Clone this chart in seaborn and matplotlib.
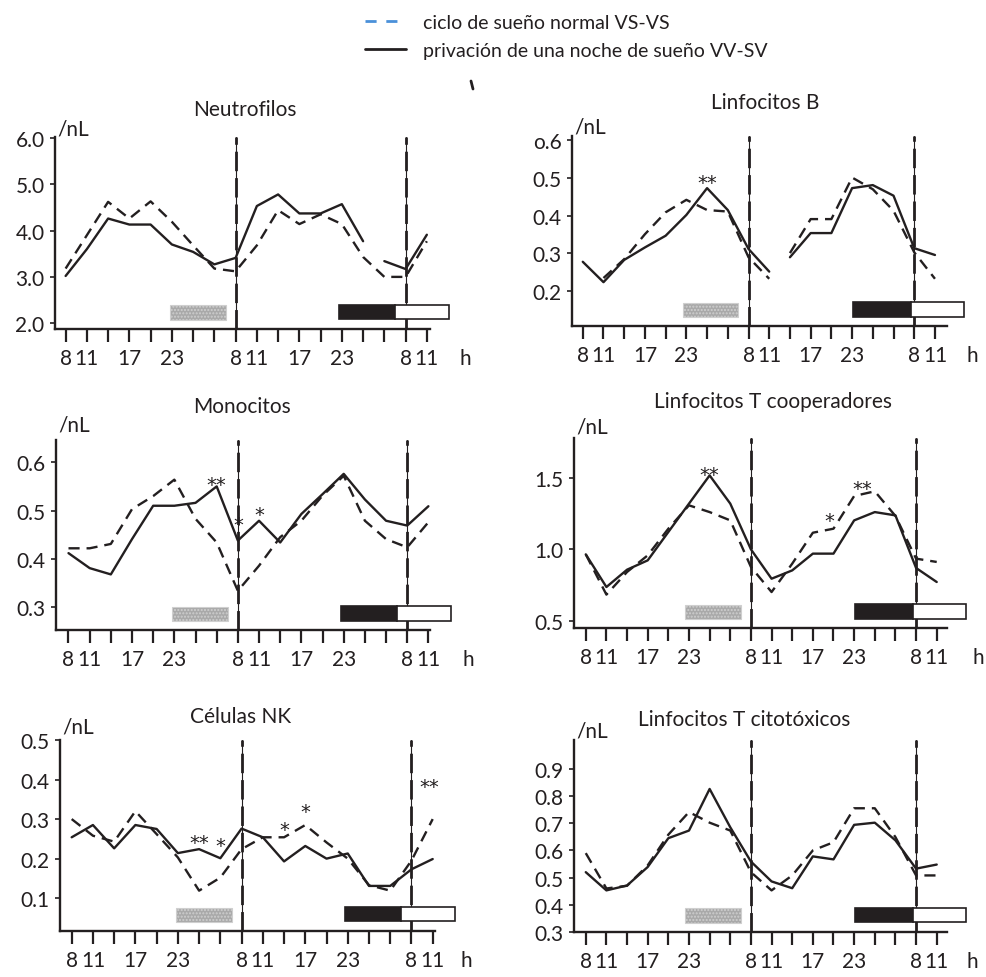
import matplotlib.pyplot as plt
import numpy as np
import pandas as pd
import seaborn as sns
from matplotlib.lines import Line2D
from matplotlib.patches import Rectangle

# clock hour at each 3-hourly sample (tick index 0..17)
hour_labels = ['8', '11', '', '17', '', '23', '', '', '8', '11', '', '17', '', '23', '', '', '8', '11']
n_ticks = len(hour_labels)

titles = ['Neutrofilos', 'Linfocitos B', 'Monocitos',
          'Linfocitos T cooperadores', 'Células NK', 'Linfocitos T citotóxicos']

neutro_normal = [3.18, 3.90, 4.62, 4.26, 4.63, 4.19, 3.68, 3.18, 3.12, 3.68, 4.44, 4.14, 4.35, 4.14, 3.43, 3.00, 3.00, 3.77]
neutro_deprived = [3.02, 3.60, 4.26, 4.13, 4.13, 3.70, 3.54, 3.27, 3.41, 4.53, 4.78, 4.37, 4.37, 4.57, 3.77, 3.34, 3.17, 3.91]

bcell_normal = [np.nan, 0.235, 0.285, 0.351, 0.409, 0.442, 0.415, 0.411, 0.290, 0.233, 0.301, 0.391, 0.391, 0.501, 0.470, 0.413, 0.303, 0.233]
bcell_deprived = [0.278, 0.224, 0.283, 0.316, 0.347, 0.402, 0.473, 0.415, 0.312, 0.252, 0.290, 0.354, 0.354, 0.473, 0.481, 0.453, 0.314, 0.296]

mono_normal = [0.422, 0.422, 0.431, 0.503, 0.530, 0.564, 0.483, 0.434, 0.334, 0.386, 0.445, 0.479, 0.531, 0.572, 0.479, 0.441, 0.424, 0.476]
mono_deprived = [0.412, 0.381, 0.368, 0.441, 0.510, 0.510, 0.516, 0.550, 0.438, 0.479, 0.434, 0.493, 0.534, 0.576, 0.523, 0.479, 0.469, 0.509]

thelper_normal = [0.965, 0.684, 0.842, 0.958, 1.144, 1.307, 1.260, 1.202, 0.877, 0.702, 0.900, 1.116, 1.144, 1.372, 1.405, 1.233, 0.935, 0.912]
thelper_deprived = [0.965, 0.737, 0.858, 0.923, 1.121, 1.319, 1.516, 1.319, 1.000, 0.795, 0.853, 0.970, 0.970, 1.202, 1.260, 1.237, 0.870, 0.772]

nk_normal = [0.300, 0.258, 0.243, 0.320, 0.262, 0.203, 0.119, 0.152, 0.224, 0.254, 0.254, 0.285, 0.241, 0.200, 0.133, 0.119, 0.195, 0.300]
nk_deprived = [0.254, 0.285, 0.226, 0.285, 0.275, 0.214, 0.224, 0.201, 0.276, 0.254, 0.193, 0.232, 0.200, 0.213, 0.131, 0.131, 0.173, 0.199]

tcyto_normal = [0.590, 0.460, 0.470, 0.545, 0.658, 0.741, 0.702, 0.673, 0.520, 0.453, 0.508, 0.600, 0.630, 0.755, 0.755, 0.649, 0.508, 0.508]
tcyto_deprived = [0.520, 0.453, 0.471, 0.539, 0.645, 0.673, 0.826, 0.685, 0.559, 0.486, 0.461, 0.578, 0.567, 0.694, 0.702, 0.637, 0.533, 0.548]

# index where a line restarts after a gap
neutro_breaks = ([], [15])
bcell_breaks = ([10], [10])
no_breaks = ([], [])

y_ticks = [[2.0, 3.0, 4.0, 5.0, 6.0], [0.2, 0.3, 0.4, 0.5, 0.6], [0.3, 0.4, 0.5, 0.6],
           [0.5, 1.0, 1.5], [0.1, 0.2, 0.3, 0.4, 0.5], [0.3, 0.4, 0.5, 0.6, 0.7, 0.8, 0.9]]
y_labels = [['2.0', '3.0', '4.0', '5.0', '6.0'], ['0.2', '0.3', '0.4', '0.5', 'o.6'],
            ['0.3', '0.4', '0.5', '0.6'], ['0.5', '1.0', '1.5'],
            ['0.1', '0.2', '0.3', '0.4', '0.5'],
            ['0.3', '0.4', '0.5', '0.6', '0.7', '0.8', '0.9']]

stars = [
    [],
    [(6, 0.506, '**')],
    [(7, 0.569, '**'), (8, 0.486, '*'), (9, 0.507, '*')],
    [(6, 1.574, '**'), (11.8, 1.249, '*'), (13.4, 1.472, '**')],
    [(6, 0.258, '**'), (7, 0.251, '*'), (10, 0.291, '*'), (11, 0.337, '*'), (16.85, 0.401, '**')],
    [],
]

series = [(neutro_normal, neutro_deprived, neutro_breaks),
          (bcell_normal, bcell_deprived, bcell_breaks),
          (mono_normal, mono_deprived, no_breaks),
          (thelper_normal, thelper_deprived, no_breaks),
          (nk_normal, nk_deprived, no_breaks),
          (tcyto_normal, tcyto_deprived, no_breaks)]

# layout (pixels of a 987x978 canvas): left, right, top, bottom
W, H = 987, 978
boxes_px = [(55, 450, 138, 330), (572, 965, 137, 327),
            (56, 450, 441, 631), (574, 965, 439, 629),
            (60, 455, 741, 932), (574, 965, 741, 933)]
y_lims = [(1.875, 6.02), (0.108, 0.611), (0.253, 0.646),
          (0.451, 1.777), (0.017, 0.5), (0.3, 1.006)]
x_lims = [(-0.50, 18.09), (-0.52, 18.45), (-0.59, 18.02),
          (-0.57, 18.37), (-0.55, 18.05), (-0.57, 18.37)]
spine_end = [17.15, 17.57, 17.08, 17.48, 17.1, 17.48]
title_x = [8.44, 8.8, 8.19, 9.05, 7.93, 7.66]
title_off = [20, 24.5, 24.5, 26.6, 17.3, 15.1]
unit_off = [5.8, 7.2, 11.5, 8.6, 10, 6.5]
h_pos = [18.8, 18.8, 18.9, 19.0, 18.6, 18.7]

ink = '#231f20'

sns.set_style('ticks')
plt.rcParams['font.family'] = ['Lato', 'DejaVu Sans']
plt.rcParams['lines.scale_dashes'] = False

fig = plt.figure(figsize=(W / 100, H / 100), dpi=100)

for i, (normal, deprived, breaks) in enumerate(series):
    left, right, top, bottom = boxes_px[i]
    ax = fig.add_axes([left / W, 1 - bottom / H, (right - left) / W, (bottom - top) / H])
    right_col = i % 2 == 1

    rows = []
    for cond, vals, brk in (('normal', normal, breaks[0]), ('deprived', deprived, breaks[1])):
        for t, v in enumerate(vals):
            seg = sum(1 for b in brk if t >= b)
            rows.append({'tick': t, 'value': v, 'condition': cond, 'segment': seg})
    df = pd.DataFrame(rows).dropna()

    sns.lineplot(data=df, x='tick', y='value', style='condition', units='segment',
                 estimator=None, color=ink, linewidth=1.7, legend=False,
                 style_order=['normal', 'deprived'],
                 dashes={'normal': (8, 5), 'deprived': ''}, ax=ax, zorder=3)

    # morning markers: thin rule with a long-dash overlay
    for day_start in (8, 16):
        ax.axvline(day_start, color=ink, lw=0.8, zorder=2)
        ax.axvline(day_start, color=ink, lw=2.0, dashes=(14, 5), zorder=2)

    # sleep / wake bars
    if right_col:
        gray, black, white = (4.82, 7.5), (13.05, 15.85), (15.85, 18.4)
    else:
        gray, black, white = (4.9, 7.55), (12.87, 15.5), (15.5, 18.05)
    trans = ax.get_xaxis_transform()
    ax.add_patch(Rectangle((gray[0], 0.048), gray[1] - gray[0], 0.075, transform=trans,
                           facecolor='#a9a9a9', edgecolor='#cfcfcf', lw=0.8, zorder=4,
                           hatch='.....'))
    ax.add_patch(Rectangle((black[0], 0.05), black[1] - black[0], 0.075, transform=trans,
                           facecolor=ink, edgecolor=ink, lw=1.2, zorder=4, clip_on=False))
    ax.add_patch(Rectangle((white[0], 0.05), white[1] - white[0], 0.075, transform=trans,
                           facecolor='white', edgecolor=ink, lw=1.2, zorder=4, clip_on=False))

    for sx, sy, s in stars[i]:
        ax.annotate(s, xy=(sx, sy), xytext=(0, -9), textcoords='offset points',
                    ha='center', va='baseline', fontsize=14, family='DejaVu Sans',
                    color=ink, zorder=5)

    ax.set_xlim(*x_lims[i])
    ax.set_ylim(*y_lims[i])
    ax.set_xticks(range(n_ticks), labels=hour_labels)
    ax.set_yticks(y_ticks[i], labels=y_labels[i])
    ax.tick_params(axis='x', length=9.5, width=1.6, pad=4, labelsize=15,
                   color=ink, labelcolor=ink)
    ax.tick_params(axis='y', length=3.5, width=1.2, pad=4, labelsize=15,
                   color=ink, labelcolor=ink)
    ax.set_xlabel('')
    ax.set_ylabel('')
    for side in ('top', 'right'):
        ax.spines[side].set_visible(False)
    for side in ('left', 'bottom'):
        ax.spines[side].set_linewidth(1.7)
        ax.spines[side].set_color(ink)
    ax.spines['bottom'].set_bounds(x_lims[i][0], spine_end[i])

    ax.annotate('h', xy=(h_pos[i], 0), xycoords=('data', 'axes fraction'),
                xytext=(0, -13.5), textcoords='offset points', ha='center', va='top',
                fontsize=15, color=ink, annotation_clip=False)
    ax.annotate('/nL', xy=(0, 1), xycoords='axes fraction', xytext=(2, unit_off[i]),
                textcoords='offset points', ha='left', va='center',
                fontsize=15, color=ink)
    ax.annotate(titles[i], xy=(title_x[i], 1), xycoords=('data', 'axes fraction'),
                xytext=(0, title_off[i]), textcoords='offset points', ha='center',
                va='center', fontsize=15, color=ink)

handles = [Line2D([], [], color='#4a90d9', lw=2, dashes=(8, 7)),
           Line2D([], [], color=ink, lw=2)]
fig.legend(handles=handles,
           labels=['ciclo de sueño normal VS-VS', 'privación de una noche de sueño VV-SV'],
           loc='upper left', bbox_to_anchor=(365 / W, 1 - 15 / H), frameon=False,
           fontsize=14, handlelength=2.1, handletextpad=0.9, labelspacing=0.55,
           borderpad=0, borderaxespad=0, labelcolor=ink)

# small stray stroke below the legend
fig.add_artist(Line2D([471 / W, 473 / W], [1 - 82 / H, 1 - 90 / H], color=ink, lw=2))

fig.savefig('out.png', dpi=100)
